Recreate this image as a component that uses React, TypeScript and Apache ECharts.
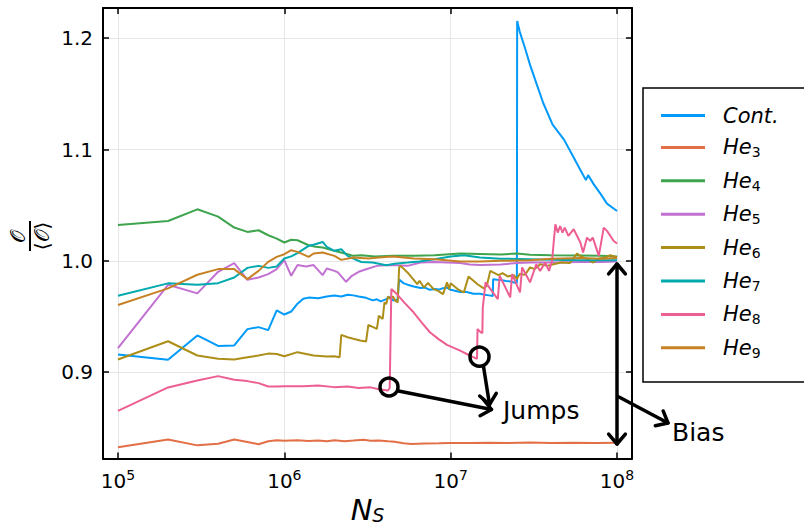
import React, { useEffect, useRef } from 'react';
import * as echarts from 'echarts';

const FONT = 'DejaVu Sans';

const seriesNames = ['Cont.', 'He3', 'He4', 'He5', 'He6', 'He7', 'He8', 'He9'];
const seriesColors = ['#009AFA', '#E36F47', '#3EA44E', '#C271D2', '#AC8E18', '#00A9AD', '#ED5E93', '#C68225'];

const contData: [number, number][] = [
  [1e5, 0.916], [2e5, 0.9112], [3e5, 0.933], [4e5, 0.9236], [5e5, 0.924], [6e5, 0.9387], [7e5, 0.9405], [8e5, 0.9378], [9e5, 0.9555], [1e6, 0.9518],
  [1.1e6, 0.9545], [1.2e6, 0.9615], [1.3e6, 0.966], [1.4e6, 0.967], [1.6e6, 0.9665], [1.8e6, 0.968], [2.0e6, 0.9688], [2.2e6, 0.968], [2.4e6, 0.9696],
  [2.6e6, 0.969], [2.8e6, 0.968], [3.1e6, 0.9668], [3.4e6, 0.9645], [3.6e6, 0.9655], [3.8e6, 0.9636], [4.1e6, 0.9657], [4.3e6, 0.9675], [4.5e6, 0.9645],
  [4.8e6, 0.9652], [4.9e6, 0.9832], [5.2e6, 0.98], [5.5e6, 0.9786], [6.0e6, 0.977], [6.6e6, 0.9756], [7.0e6, 0.976], [7.5e6, 0.974], [8.0e6, 0.9748],
  [8.5e6, 0.9742], [9.0e6, 0.9755], [9.5e6, 0.976], [1.0e7, 0.974], [1.14e7, 0.972], [1.25e7, 0.972], [1.37e7, 0.9705], [1.5e7, 0.9705], [1.6e7, 0.9695],
  [1.7e7, 0.969], [1.79e7, 0.9685], [1.8e7, 0.9834], [1.9e7, 0.983], [2.0e7, 0.9828], [2.15e7, 0.982], [2.3e7, 0.9815], [2.4e7, 0.9805], [2.5e7, 0.98],
  [2.51e7, 1.2155], [2.6e7, 1.2059], [2.8e7, 1.191], [3.0e7, 1.176], [3.3e7, 1.158], [3.6e7, 1.1418], [4.1e7, 1.1224], [4.8e7, 1.1089], [5.5e7, 1.0926],
  [6.0e7, 1.082], [6.5e7, 1.0725], [6.7e7, 1.077], [7.25e7, 1.0687], [8.0e7, 1.0597], [8.7e7, 1.0514], [1e8, 1.0448],
];

const he3Data: [number, number][] = [
  [1e5, 0.8326], [2e5, 0.8395], [3e5, 0.8343], [4e5, 0.8358], [5e5, 0.8395], [6e5, 0.8373], [7e5, 0.8353], [8e5, 0.838], [9e5, 0.8388], [1e6, 0.8385],
  [1.2e6, 0.8388], [1.4e6, 0.8382], [1.6e6, 0.8386], [1.8e6, 0.8379], [2.0e6, 0.8389], [2.3e6, 0.8381], [2.6e6, 0.8386], [3.0e6, 0.8393], [3.3e6, 0.8384],
  [3.7e6, 0.8387], [4.2e6, 0.838], [4.6e6, 0.8376], [5.2e6, 0.8362], [5.8e6, 0.8356], [7e6, 0.8359], [8.5e6, 0.8362], [1e7, 0.8365], [1.3e7, 0.8364],
  [1.7e7, 0.8367], [2.2e7, 0.8365], [3e7, 0.8368], [4e7, 0.8364], [5.5e7, 0.8366], [7.5e7, 0.8365], [1e8, 0.8366],
];

const he4Data: [number, number][] = [
  [1e5, 1.0322], [2e5, 1.0358], [3e5, 1.0463], [4e5, 1.0397], [5e5, 1.0299], [6e5, 1.026], [7e5, 1.0275], [8e5, 1.023], [9e5, 1.02], [1e6, 1.0165],
  [1.1e6, 1.019], [1.2e6, 1.0185], [1.4e6, 1.014], [1.5e6, 1.013], [1.7e6, 1.012], [2.0e6, 1.009], [2.4e6, 1.006], [2.6e6, 1.0045], [2.9e6, 1.0051],
  [3.5e6, 1.0039], [4.5e6, 1.0045], [6e6, 1.0045], [8e6, 1.0051], [1.14e7, 1.0066], [1.5e7, 1.0062], [2e7, 1.0058], [2.5e7, 1.0066], [3e7, 1.0055],
  [4e7, 1.005], [6e7, 1.0048], [8e7, 1.0045], [1e8, 1.004],
];

const he5Data: [number, number][] = [
  [1e5, 0.9216], [2e5, 0.9785], [3e5, 0.9708], [4e5, 0.9902], [5e5, 0.9979], [6e5, 0.983], [7e5, 0.9851], [8e5, 0.9881], [9e5, 0.9926], [1e6, 1.0006],
  [1.1e6, 0.9866], [1.2e6, 0.9962], [1.35e6, 0.995], [1.5e6, 0.9962], [1.7e6, 0.9872], [1.8e6, 0.9932], [2.0e6, 0.991], [2.1e6, 0.9896], [2.35e6, 0.9812],
  [2.55e6, 0.9866], [2.8e6, 0.9902], [3.1e6, 0.9925], [3.6e6, 0.9955], [4.3e6, 0.9962], [5.5e6, 0.9955], [6.6e6, 0.9985], [8e6, 0.999], [9.5e6, 0.9985],
  [1.14e7, 0.998], [1.3e7, 0.9968], [1.5e7, 0.9962], [2e7, 0.9968], [2.5e7, 0.998], [3e7, 0.9985], [4e7, 0.9985], [6e7, 0.999], [8e7, 0.999], [1e8, 0.9995],
];

const he6Data: [number, number][] = [
  [1e5, 0.9114], [2e5, 0.9278], [3e5, 0.915], [4e5, 0.912], [5e5, 0.9114], [6e5, 0.9135], [7e5, 0.915], [8e5, 0.9167], [9e5, 0.9164], [1e6, 0.9143],
  [1.2e6, 0.918], [1.5e6, 0.915], [1.8e6, 0.914], [2.0e6, 0.9144], [2.15e6, 0.9135], [2.2e6, 0.9335], [2.4e6, 0.9314], [2.6e6, 0.93], [2.86e6, 0.9284],
  [3.1e6, 0.9275], [3.2e6, 0.9425], [3.6e6, 0.9389], [3.7e6, 0.9508], [3.9e6, 0.9478], [4.0e6, 0.9627], [4.1e6, 0.9612], [4.2e6, 0.9681], [4.35e6, 0.9657],
  [4.5e6, 0.9681], [4.65e6, 0.9642], [4.8e6, 0.9627], [4.9e6, 0.9941], [5.0e6, 0.9955], [5.5e6, 0.9896], [6.3e6, 0.9791], [6.5e6, 0.9821], [6.9e6, 0.976],
  [7.3e6, 0.9803], [7.9e6, 0.9746], [8.4e6, 0.973], [9.0e6, 0.9701], [9.5e6, 0.9807], [9.8e6, 0.9746], [1.0e7, 0.9799], [1.1e7, 0.9747], [1.2e7, 0.9717],
  [1.28e7, 0.986], [1.45e7, 0.979], [1.58e7, 0.9753], [1.65e7, 0.9776], [1.73e7, 0.991], [1.8e7, 0.9896], [1.94e7, 0.9872], [2.05e7, 0.989], [2.2e7, 0.986],
  [2.4e7, 0.9872], [2.5e7, 0.9836], [2.6e7, 0.9881], [2.8e7, 0.9875], [3.0e7, 0.9941], [3.2e7, 0.9926], [3.45e7, 0.997], [3.8e7, 0.9955], [4.15e7, 0.997],
  [4.6e7, 0.9985], [5.2e7, 0.998], [5.75e7, 1.0066], [6.0e7, 1.0045], [6.6e7, 1.0015], [7.2e7, 0.9985], [7.8e7, 1.0021], [8.5e7, 1.003], [9.1e7, 1.0051],
  [1e8, 1.003],
];

const he7Data: [number, number][] = [
  [1e5, 0.9687], [2e5, 0.9798], [3e5, 0.9785], [4e5, 0.98], [5e5, 0.9851], [6e5, 0.9937], [7e5, 0.9955], [8e5, 0.9937], [9e5, 0.995], [1e6, 1.0021],
  [1.1e6, 1.004], [1.2e6, 1.007], [1.4e6, 1.0135], [1.5e6, 1.0145], [1.7e6, 1.017], [1.8e6, 1.0125], [2.0e6, 1.009], [2.2e6, 1.0105], [2.4e6, 1.0045],
  [2.6e6, 1.002], [2.9e6, 0.999], [3.4e6, 0.9985], [4.1e6, 0.996], [4.6e6, 0.9975], [5.5e6, 0.9985], [6.5e6, 0.9995], [8e6, 1.0015], [1e7, 1.004],
  [1.2e7, 1.005], [1.5e7, 1.003], [2e7, 1.002], [3e7, 1.0015], [4e7, 1.001], [6e7, 1.0005], [1e8, 1.0005],
];

const he8Data: [number, number][] = [
  [1e5, 0.8652], [2e5, 0.8863], [3e5, 0.8926], [4e5, 0.8965], [5e5, 0.8932], [6e5, 0.892], [7e5, 0.8902], [8e5, 0.8872], [9e5, 0.8872], [1e6, 0.8875],
  [1.3e6, 0.8874], [1.6e6, 0.888], [2e6, 0.8866], [2.4e6, 0.8872], [2.8e6, 0.8858], [3.3e6, 0.8864], [3.7e6, 0.8847], [4.2e6, 0.8836], [4.3e6, 0.8858],
  [4.4e6, 0.9747], [4.75e6, 0.9702], [5.3e6, 0.962], [5.98e6, 0.9538], [6.7e6, 0.9445], [7.5e6, 0.9359], [8.5e6, 0.9295], [9.5e6, 0.9245], [1.14e7, 0.9194],
  [1.3e7, 0.915], [1.44e7, 0.912], [1.45e7, 0.9389], [1.5e7, 0.9365], [1.55e7, 0.935], [1.56e7, 0.958], [1.62e7, 0.9807], [1.92e7, 0.9657], [1.97e7, 0.9866],
  [2.28e7, 0.9672], [2.34e7, 0.9881], [2.61e7, 0.9717], [2.69e7, 0.9941], [3.0e7, 0.9807], [3.27e7, 0.997], [3.45e7, 0.991], [3.7e7, 0.9985], [3.9e7, 0.991],
  [4.07e7, 1.0], [4.16e7, 1.0165], [4.26e7, 1.0329], [4.4e7, 1.0254], [4.55e7, 1.0313], [4.7e7, 1.0254], [4.85e7, 1.0299], [5.1e7, 1.0224], [5.49e7, 1.0284],
  [6.02e7, 1.0165], [6.25e7, 1.0075], [6.6e7, 1.0209], [6.9e7, 1.0179], [7.15e7, 1.0209], [7.77e7, 1.0045], [8.32e7, 1.0299], [8.7e7, 1.0269], [9.55e7, 1.0179],
  [1e8, 1.0156],
];

const he9Data: [number, number][] = [
  [1e5, 0.9603], [2e5, 0.9753], [3e5, 0.9875], [4e5, 0.9926], [5e5, 0.9926], [6e5, 0.9836], [7e5, 0.991], [8e5, 0.9991], [9e5, 1.0036], [1e6, 1.006],
  [1.1e6, 1.0096], [1.2e6, 1.0081], [1.4e6, 1.0036], [1.5e6, 1.0066], [1.7e6, 1.0075], [2.0e6, 1.0045], [2.2e6, 1.0009], [2.6e6, 1.003], [3.2e6, 1.0021],
  [3.7e6, 1.003], [4.5e6, 1.004], [6e6, 1.0021], [8e6, 1.0015], [1.14e7, 0.9995], [1.5e7, 0.9995], [2e7, 1.0], [3e7, 1.0005], [4e7, 1.002], [6e7, 1.0025],
  [8e7, 1.002], [1e8, 1.0025],
];

const seriesData = [contData, he3Data, he4Data, he5Data, he6Data, he7Data, he8Data, he9Data];

const xMin = Math.pow(10, 4.91);
const xMax = Math.pow(10, 8.09);
const yMin = 0.8225;
const yMax = 1.2271;

function arrowHead(tx: number, ty: number, fx: number, fy: number, len = 13, ang = 0.7): number[][] {
  const d = Math.atan2(fy - ty, fx - tx);
  return [
    [tx + len * Math.cos(d + ang), ty + len * Math.sin(d + ang)],
    [tx, ty],
    [tx + len * Math.cos(d - ang), ty + len * Math.sin(d - ang)],
  ];
}

const annStroke = { stroke: '#000', lineWidth: 3.5, fill: 'none', lineCap: 'round', lineJoin: 'round' };

function arrow(fx: number, fy: number, tx: number, ty: number, both = false) {
  const els: any[] = [
    { type: 'line', z: 100, shape: { x1: fx, y1: fy, x2: tx, y2: ty }, style: annStroke },
    { type: 'polyline', z: 100, shape: { points: arrowHead(tx, ty, fx, fy) }, style: annStroke },
  ];
  if (both) els.push({ type: 'polyline', z: 100, shape: { points: arrowHead(fx, fy, tx, ty) }, style: annStroke });
  return els;
}

export default function App() {
  const ref = useRef<HTMLDivElement>(null);
  useEffect(() => {
    const chart = echarts.init(ref.current!, null, { renderer: 'svg' });
    const axisLineStyle = { color: '#000', width: 2 };
    const tick = { show: true, inside: true, length: 6, lineStyle: { color: '#000', width: 1.5 } };
    const grid = { show: true, lineStyle: { color: '#e6e6e6', width: 1 } };
    const option: any = {
      animation: false,
      backgroundColor: '#fff',
      textStyle: { fontFamily: FONT },
      grid: { left: 103, right: 172, top: 8, bottom: 67.5, containLabel: false, outerBoundsMode: 'none' },
      xAxis: [
        {
          type: 'log', logBase: 10, min: xMin, max: xMax, position: 'bottom',
          axisLine: { show: true, onZero: false, lineStyle: axisLineStyle },
          axisTick: tick, splitLine: grid, minorTick: { show: false },
          axisLabel: {
            show: true, margin: 9, showMinLabel: false, showMaxLabel: false, color: '#000',
            formatter: (v: number) => `{b|10}{e|${Math.round(Math.log10(v))}}`,
            rich: {
              b: { fontSize: 20, lineHeight: 26, fontFamily: FONT, color: '#000' },
              e: { fontSize: 14, lineHeight: 14, verticalAlign: 'top', fontFamily: FONT, color: '#000' },
            },
          },
          name: '{n|N}{s|S}', nameLocation: 'middle', nameGap: 36,
          nameTextStyle: {
            rich: {
              n: { fontSize: 29, lineHeight: 29, fontStyle: 'italic', fontFamily: FONT, color: '#000' },
              s: { fontSize: 19, lineHeight: 19, verticalAlign: 'bottom', fontStyle: 'italic', fontFamily: FONT, color: '#000' },
            },
          },
        },
        {
          type: 'log', logBase: 10, min: xMin, max: xMax, position: 'top',
          axisLine: { show: true, onZero: false, lineStyle: axisLineStyle },
          axisTick: tick, splitLine: { show: false }, axisLabel: { show: false },
        },
      ],
      yAxis: [
        {
          type: 'value', min: yMin, max: yMax, position: 'left',
          axisLine: { show: true, onZero: false, lineStyle: axisLineStyle },
          axisTick: tick, splitLine: grid,
          axisLabel: {
            show: true, margin: 10, fontSize: 20, color: '#000', fontFamily: FONT,
            showMinLabel: false, showMaxLabel: false,
            formatter: (v: number) => v.toFixed(1),
          },
        },
        {
          type: 'value', min: yMin, max: yMax, position: 'right',
          axisLine: { show: true, onZero: false, lineStyle: axisLineStyle },
          axisTick: tick, splitLine: { show: false }, axisLabel: { show: false },
        },
      ],
      legend: {
        orient: 'vertical', left: 661, top: 105, padding: 0, itemWidth: 44, itemHeight: 3, itemGap: 10.9, icon: 'rect',
        data: seriesNames,
        formatter: (name: string) => (name.startsWith('He') ? `{t|He}{s|${name.slice(2)}}` : `{t|${name}}`),
        textStyle: {
          color: '#000', padding: [0, 0, 0, 13],
          rich: {
            t: { fontSize: 21, lineHeight: 24, fontStyle: 'italic', fontFamily: FONT, color: '#000' },
            s: { fontSize: 14, lineHeight: 14, verticalAlign: 'bottom', fontFamily: FONT, color: '#000' },
          },
        },
      },
      graphic: [
        { type: 'rect', z: -1, shape: { x: 643, y: 88, width: 175, height: 294 }, style: { fill: '#fff', stroke: '#000', lineWidth: 1.5 } },
        {
          type: 'group', x: 30, y: 236, rotation: Math.PI / 2,
          children: [
            { type: 'text', style: { text: '𝒪', x: 0, y: -2, fontSize: 20, fontFamily: FONT, fill: '#000', align: 'center', verticalAlign: 'bottom', textAlign: 'center', textVerticalAlign: 'bottom' } },
            { type: 'line', shape: { x1: -15, y1: 0, x2: 15, y2: 0 }, style: { stroke: '#000', lineWidth: 2 } },
            { type: 'text', style: { text: '⟨𝒪⟩', x: 0, y: 2, fontSize: 20, fontFamily: FONT, fill: '#000', align: 'center', verticalAlign: 'top', textAlign: 'center', textVerticalAlign: 'top' } },
          ],
        },
        { type: 'circle', z: 100, shape: { cx: 389, cy: 387, r: 9 }, style: annStroke },
        { type: 'circle', z: 100, shape: { cx: 479.5, cy: 356.7, r: 9.5 }, style: annStroke },
        ...arrow(398.5, 391, 491.5, 409.5),
        ...arrow(483.5, 366.5, 489.5, 404.5),
        ...arrow(617, 264, 617, 444, true),
        ...arrow(619, 397, 668, 423),
        { type: 'text', z: 100, style: { text: 'Jumps', x: 503, y: 410, fontSize: 25, fontFamily: FONT, fill: '#000', verticalAlign: 'middle', textVerticalAlign: 'middle' } },
        { type: 'text', z: 100, style: { text: 'Bias', x: 672, y: 432, fontSize: 25, fontFamily: FONT, fill: '#000', verticalAlign: 'middle', textVerticalAlign: 'middle' } },
      ],
      series: seriesNames.map((name, i) => ({
        name, type: 'line', xAxisIndex: 0, yAxisIndex: 0, data: seriesData[i],
        showSymbol: false, symbol: 'none', clip: true,
        lineStyle: { width: 2, color: seriesColors[i] }, itemStyle: { color: seriesColors[i] },
      })),
    };
    chart.setOption(option);
    return () => chart.dispose();
  }, []);
  return <div ref={ref} style={{ position: 'fixed', left: 0, top: 0, width: 804, height: 526, background: '#fff' }} />;
}
